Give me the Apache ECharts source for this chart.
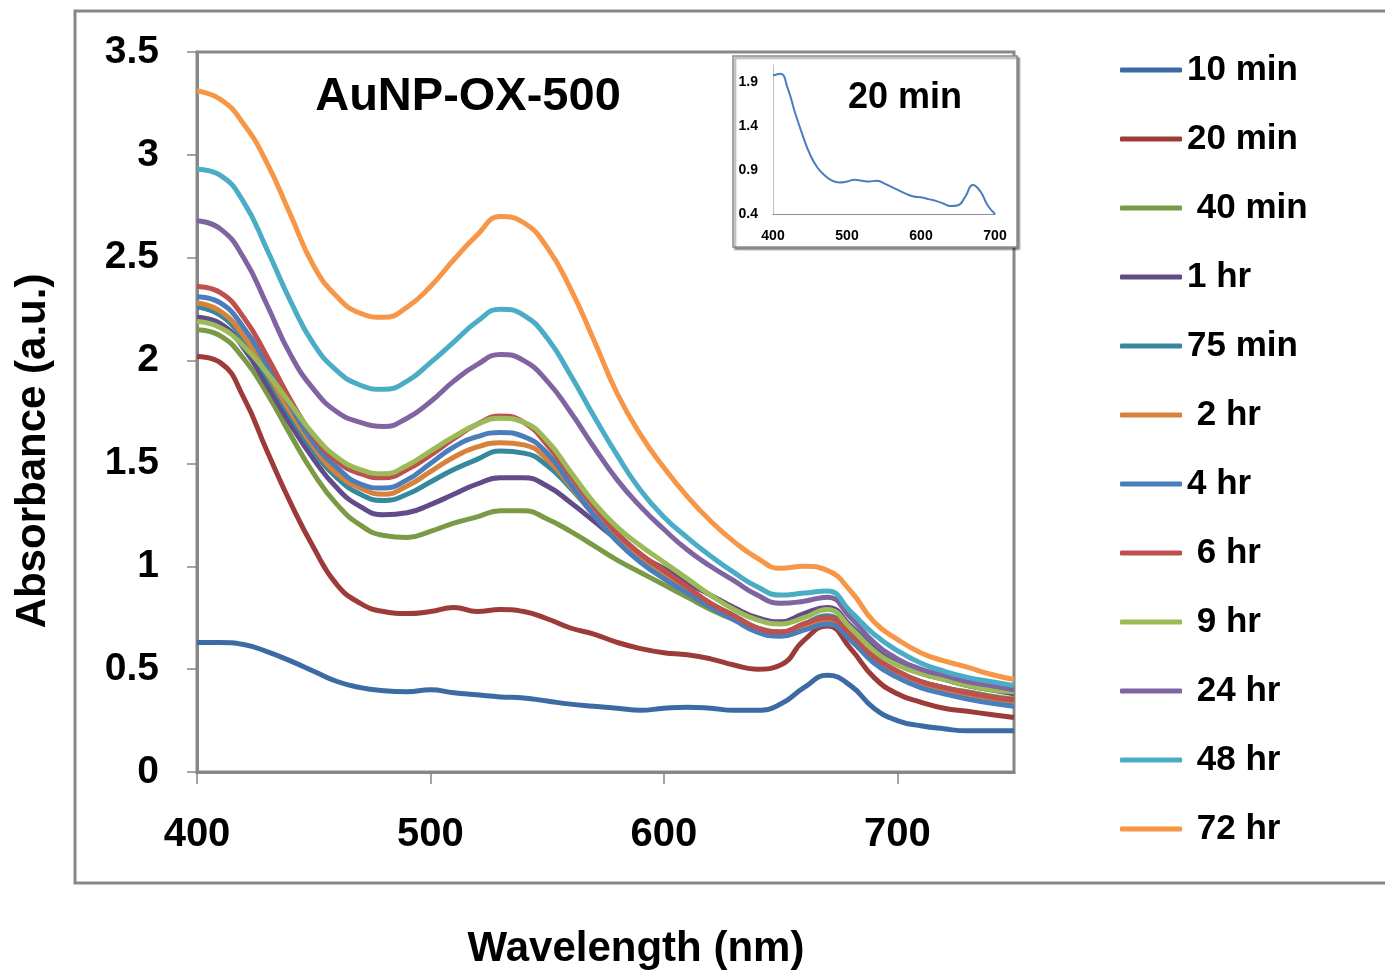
<!DOCTYPE html>
<html>
<head>
<meta charset="utf-8">
<script src="https://cdn.jsdelivr.net/npm/echarts@6/dist/echarts.min.js"></script>
<style>
html,body{margin:0;padding:0;background:#fff;}
#c{width:1385px;height:971px;}
</style>
</head>
<body>
<div id="c"></div>
<script>
// ---- data ----
const wavelengths = [400,410,420,430,440,450,460,470,480,490,500,510,520,530,540,550,560,570,580,590,600,610,620,630,640,650,660,670,680,690,700,710,720,730,740,750];
const seriesNames = ['10 min','20 min',' 40 min','1 hr','75 min',' 2 hr','4 hr',' 6 hr',' 9 hr',' 24 hr',' 48 hr',' 72 hr'];
const min10 = [0.63,0.63,0.62,0.585,0.54,0.49,0.44,0.41,0.395,0.39,0.40,0.385,0.375,0.365,0.36,0.345,0.33,0.32,0.31,0.30,0.31,0.315,0.31,0.30,0.30,0.33,0.41,0.47,0.42,0.31,0.25,0.225,0.21,0.20,0.20,0.20];
const min20 = [2.02,1.99,1.82,1.56,1.31,1.09,0.91,0.82,0.78,0.77,0.78,0.80,0.78,0.79,0.78,0.745,0.70,0.67,0.63,0.60,0.58,0.57,0.55,0.52,0.50,0.52,0.64,0.71,0.60,0.46,0.38,0.34,0.31,0.295,0.28,0.265];
const min40 = [2.15,2.12,2.01,1.84,1.64,1.45,1.30,1.20,1.15,1.14,1.17,1.21,1.24,1.27,1.27,1.23,1.17,1.10,1.03,0.97,0.91,0.85,0.79,0.74,0.70,0.68,0.71,0.74,0.66,0.55,0.48,0.44,0.41,0.39,0.37,0.355];
const hr1 = [2.21,2.18,2.06,1.88,1.69,1.52,1.38,1.29,1.25,1.26,1.30,1.35,1.40,1.43,1.43,1.39,1.31,1.22,1.13,1.05,0.99,0.92,0.86,0.80,0.75,0.73,0.77,0.80,0.71,0.60,0.53,0.48,0.45,0.42,0.40,0.38];
const min75 = [2.26,2.22,2.10,1.92,1.73,1.56,1.43,1.35,1.32,1.35,1.41,1.47,1.52,1.56,1.55,1.49,1.38,1.25,1.13,1.03,0.96,0.89,0.82,0.76,0.70,0.68,0.72,0.76,0.67,0.56,0.49,0.44,0.41,0.385,0.365,0.35];
const hr2 = [2.28,2.24,2.12,1.94,1.75,1.58,1.45,1.38,1.35,1.39,1.46,1.53,1.58,1.60,1.59,1.52,1.39,1.25,1.13,1.03,0.95,0.88,0.81,0.75,0.69,0.67,0.70,0.73,0.65,0.54,0.47,0.42,0.39,0.365,0.345,0.33];
const hr4 = [2.31,2.28,2.16,1.98,1.78,1.60,1.48,1.40,1.38,1.42,1.50,1.58,1.63,1.65,1.63,1.55,1.40,1.25,1.12,1.02,0.94,0.87,0.80,0.74,0.68,0.66,0.69,0.72,0.64,0.53,0.46,0.41,0.38,0.355,0.335,0.32];
const hr6 = [2.36,2.33,2.21,2.02,1.81,1.63,1.51,1.45,1.43,1.47,1.54,1.62,1.69,1.73,1.70,1.59,1.44,1.29,1.16,1.06,0.98,0.90,0.82,0.76,0.70,0.68,0.72,0.75,0.67,0.56,0.49,0.44,0.41,0.385,0.365,0.35];
const hr9 = [2.19,2.16,2.07,1.94,1.79,1.64,1.53,1.47,1.45,1.49,1.56,1.63,1.69,1.72,1.70,1.61,1.46,1.31,1.19,1.10,1.02,0.94,0.86,0.79,0.74,0.72,0.75,0.79,0.70,0.59,0.52,0.48,0.45,0.42,0.40,0.39];
const hr24 = [2.68,2.64,2.50,2.27,2.03,1.86,1.75,1.70,1.68,1.72,1.80,1.90,1.98,2.03,2.00,1.90,1.75,1.58,1.42,1.29,1.18,1.08,1.00,0.93,0.86,0.82,0.83,0.85,0.75,0.63,0.55,0.50,0.47,0.44,0.42,0.40];
const hr48 = [2.93,2.90,2.77,2.54,2.29,2.08,1.95,1.88,1.86,1.90,1.99,2.09,2.19,2.25,2.22,2.11,1.93,1.73,1.54,1.37,1.24,1.14,1.05,0.97,0.90,0.86,0.87,0.88,0.78,0.67,0.59,0.53,0.49,0.46,0.44,0.42];
const hr72 = [3.31,3.27,3.15,2.96,2.71,2.46,2.31,2.23,2.21,2.26,2.36,2.49,2.61,2.70,2.67,2.55,2.35,2.10,1.84,1.64,1.48,1.34,1.22,1.12,1.04,0.99,1.00,0.98,0.88,0.73,0.645,0.58,0.54,0.51,0.475,0.45];
const seriesValues = [min10,min20,min40,hr1,min75,hr2,hr4,hr6,hr9,hr24,hr48,hr72];
const seriesColors = ['#3C6AA3','#9C3B38','#7B9A45','#634A88','#35889D','#D7813A','#4A7EBB','#C0504D','#9BBB59','#8064A2','#4BACC6','#F79646'];

const insetWavelengths = [400,410,420,430,440,450,460,470,480,490,500,510,520,530,540,550,560,570,580,590,600,610,620,630,640,650,660,670,680,690,700];
const inset20min = [1.98,2.00,1.83,1.55,1.30,1.08,0.93,0.84,0.78,0.76,0.77,0.79,0.78,0.77,0.78,0.75,0.71,0.67,0.63,0.60,0.59,0.57,0.55,0.52,0.49,0.50,0.60,0.73,0.66,0.50,0.40];

const FONT = '"Liberation Sans", Arial, sans-serif';

const chart = echarts.init(document.getElementById('c'), null, {renderer:'canvas'});

const mainSeries = seriesNames.map((n,i)=>({
  name:n, type:'line', xAxisIndex:0, yAxisIndex:0,
  data: wavelengths.map((w,j)=>[w, seriesValues[i][j]]),
  smooth:0.5, showSymbol:false, symbol:'none',
  lineStyle:{width:5, color:seriesColors[i]},
  itemStyle:{color:seriesColors[i]},
  z:2
}));

const insetSeries = {
  name:'inset', type:'line', xAxisIndex:1, yAxisIndex:1,
  data: insetWavelengths.map((w,j)=>[w, inset20min[j]]),
  smooth:0.5, showSymbol:false, symbol:'none',
  lineStyle:{width:2, color:'#4A7EBB'}, z:12, silent:true
};

const option = {
  backgroundColor:'#fff',
  animation:false,
  textStyle:{fontFamily:FONT},
  grid:[
    {left:197, top:52, right:371, bottom:199, show:true, borderColor:'#878787', borderWidth:3, backgroundColor:'transparent'},
    {left:773, top:65, right:390, bottom:757, show:false}
  ],
  legend:{
    data: seriesNames,
    orient:'vertical', left:1115, top:45,
    itemWidth:62, itemHeight:5, itemGap:29, icon:'roundRect',
    textStyle:{fontFamily:FONT, fontSize:35, fontWeight:'bold', color:'#000', lineHeight:40}
  },
  xAxis:[
    {type:'value', gridIndex:0, min:400, max:750, interval:100,
     axisLine:{show:true, lineStyle:{color:'#878787', width:3}},
     axisTick:{show:true, inside:false, length:12, lineStyle:{color:'#878787', width:1.5}},
     axisLabel:{fontFamily:FONT, fontSize:40, fontWeight:'bold', color:'#000', margin:43, showMaxLabel:false},
     splitLine:{show:false}},
    {type:'value', gridIndex:1, min:400, max:700, interval:100, z:11,
     axisLine:{show:true, lineStyle:{color:'#8c8c8c', width:1}},
     axisTick:{show:false},
     axisLabel:{fontFamily:FONT, fontSize:14, fontWeight:'bold', color:'#000', margin:15},
     splitLine:{show:false}}
  ],
  yAxis:[
    {type:'value', gridIndex:0, min:0, max:3.5, interval:0.5,
     axisLine:{show:true, lineStyle:{color:'#878787', width:3}},
     axisTick:{show:true, inside:false, length:10, lineStyle:{color:'#878787', width:1.5}},
     axisLabel:{fontFamily:FONT, fontSize:39, fontWeight:'bold', color:'#000', margin:38},
     splitLine:{show:false}},
    {type:'value', gridIndex:1, min:0.4, max:2.1, interval:0.5, z:11,
     axisLine:{show:true, lineStyle:{color:'#c0c0c0', width:1}},
     axisTick:{show:false},
     axisLabel:{fontFamily:FONT, fontSize:14, fontWeight:'bold', color:'#000', margin:15, showMaxLabel:false},
     splitLine:{show:false}}
  ],
  graphic:[
    {type:'rect', z:0, silent:true, shape:{x:75, y:11, width:1340, height:872},
     style:{fill:'none', stroke:'#878787', lineWidth:3}},
    {type:'rect', z:5, silent:true, shape:{x:733, y:56, width:284, height:191},
     style:{fill:'#fff', stroke:'#8c8c8c', lineWidth:1.5, shadowBlur:2, shadowOffsetX:2, shadowOffsetY:2, shadowColor:'rgba(0,0,0,0.45)'}},
    {type:'text', z:13, silent:true, x:468, y:97,
     style:{text:'AuNP-OX-500', fill:'#000', font:'bold 47px '+FONT, textAlign:'center', textVerticalAlign:'middle'}},
    {type:'text', z:13, silent:true, x:905, y:98,
     style:{text:'20 min', fill:'#000', font:'bold 36px '+FONT, textAlign:'center', textVerticalAlign:'middle'}},
    {type:'text', z:13, silent:true, x:636, y:949,
     style:{text:'Wavelength (nm)', fill:'#000', font:'bold 42px '+FONT, textAlign:'center', textVerticalAlign:'middle'}},
    {type:'text', z:13, silent:true, x:33, y:451, rotation:Math.PI/2,
     style:{text:'Absorbance (a.u.)', fill:'#000', font:'bold 42px '+FONT, textAlign:'center', textVerticalAlign:'middle'}}
  ],
  series: mainSeries.concat([insetSeries])
};
chart.setOption(option);
</script>
</body>
</html>
